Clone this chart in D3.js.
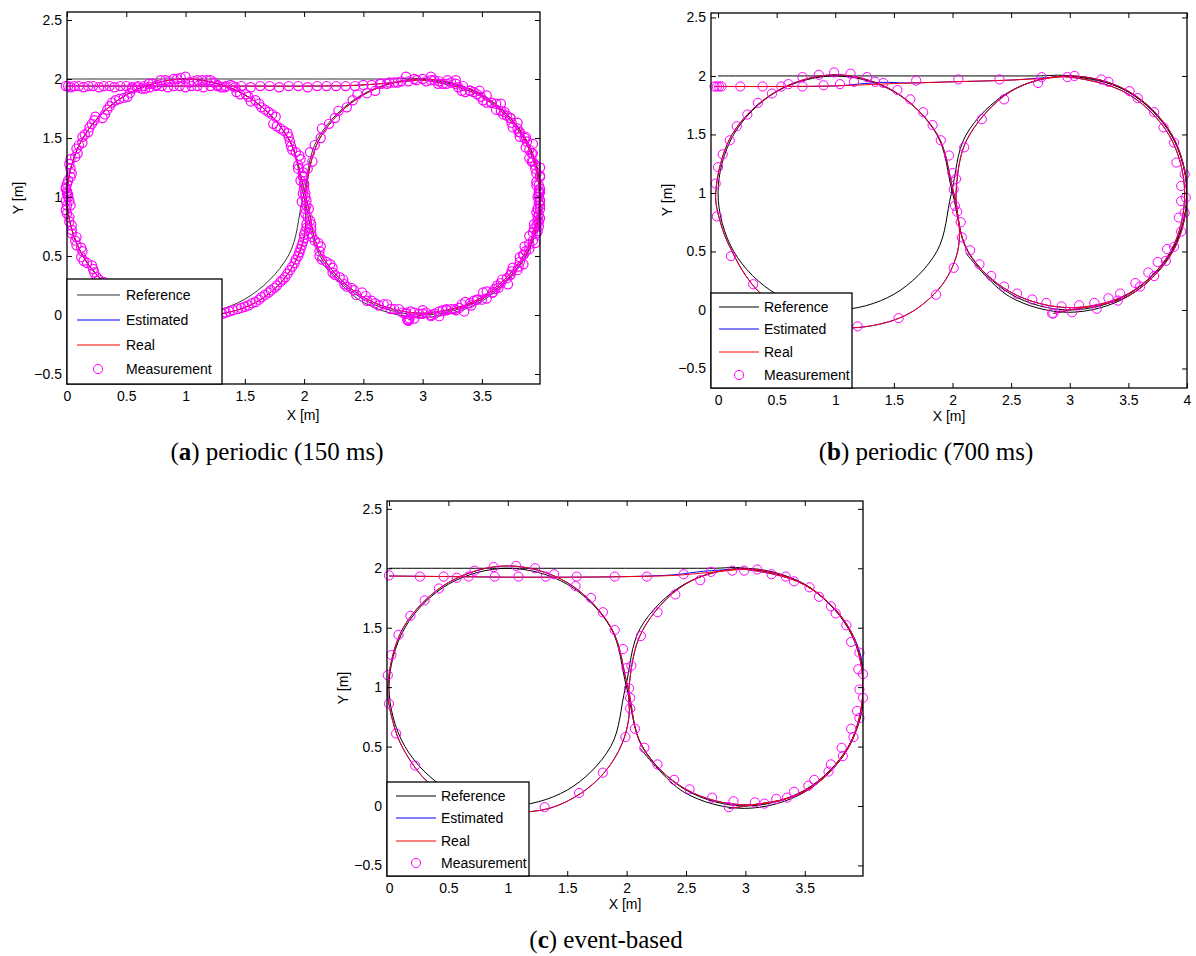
<!DOCTYPE html>
<html>
<head>
<meta charset="utf-8">
<script src="https://cdn.jsdelivr.net/npm/d3@7"></script>
<style>
  body { margin: 0; background: #fff; }
  svg { display: block; }
</style>
</head>
<body>
<div class="graphHold"></div>
<script>
/************/
/*** DATA ***/
/************/
let xTicksShort = [0, 0.5, 1, 1.5, 2, 2.5, 3, 3.5];
let xTicksLong = [0, 0.5, 1, 1.5, 2, 2.5, 3, 3.5, 4];
let yTicks = [-0.5, 0, 0.5, 1, 1.5, 2, 2.5];
let legendNames = ['Reference', 'Estimated', 'Real', 'Measurement'];

/* reference trajectory (same for the three runs) */
let referencePath = [[0,2],[2.7,2],[3,2],[3.5,1.866],[3.866,1.5],[4,1],[3.866,0.5],[3.5,0.134],[3,0],[2.5,0.134],[2.134,0.5],[2,1],
  [1.866,1.5],[1.5,1.866],[1,2],[0.5,1.866],[0.134,1.5],[0,1],[0.134,0.5],[0.5,0.134],[1,0],[1.5,0.134],[1.866,0.5],[1.99,0.995],
  [2.115,1.495],[2.485,1.865],[2.99,2],[3.495,1.865],[3.865,1.495],[4,0.99],[3.865,0.485],[3.495,0.115],[2.99,-0.02],[2.485,0.115],[2.115,0.485]];

/* (a) periodic 150 ms */
let realA = [[0,1.94],[0.5,1.94],[1,1.94],[1.5,1.94],[2,1.94],[2.4,1.945],[2.7,1.965],[2.9,1.985],[3,1.99],[3.49,1.855],[3.855,1.49],[3.985,1],
  [3.855,0.51],[3.49,0.145],[3,0.015],[2.51,0.145],[2.145,0.51],[2.015,1],[1.866,1.5],[1.5,1.866],[1,2],[0.5,1.866],[0.134,1.5],[0,1],
  [0.134,0.5],[0.5,0.134],[1,0],[1.35,0.02],[1.6,0.11],[1.8,0.27],[1.93,0.46],[2,0.66],[2.015,0.85],[2.01,1],[2.134,1.5],[2.5,1.866],
  [3,2],[3.5,1.866],[3.866,1.5],[3.995,1],[3.866,0.5],[3.5,0.134],[3,0],[2.88,-0.04]];
let estimatedA = [[0,1.94],[0.5,1.94],[1,1.94],[1.5,1.94],[2,1.94],[2.4,1.945],[2.7,1.965],[2.9,1.985],[3,1.99],[3.49,1.855],[3.855,1.49],[3.985,1],
  [3.855,0.51],[3.49,0.145],[3,0.015],[2.51,0.145],[2.145,0.51],[2.015,1],[1.866,1.5],[1.5,1.866],[1,2],[0.5,1.866],[0.134,1.5],[0,1],
  [0.134,0.5],[0.5,0.134],[1,0],[1.35,0.02],[1.6,0.11],[1.8,0.27],[1.93,0.46],[2,0.66],[2.015,0.85],[2.01,1],[2.134,1.5],[2.5,1.866],
  [3,2],[3.5,1.866],[3.866,1.5],[3.995,1],[3.866,0.5],[3.5,0.134],[3,0],[2.88,-0.04]];
let measureA = [
  /* straight part */
  [-0.01,1.94],[0.01,1.94],[0.03,1.93],[0.06,1.94],[0.10,1.94],[0.14,1.93],[0.18,1.94],[0.22,1.94],[0.27,1.93],[0.31,1.94],[0.36,1.94],[0.40,1.93],
  [0.45,1.94],[0.50,1.94],[0.55,1.93],[0.60,1.94],[0.65,1.94],[0.70,1.93],[0.75,1.94],[0.80,1.94],[0.85,1.93],[0.90,1.94],[0.95,1.94],[1.00,1.93],
  [1.05,1.94],[1.10,1.94],[1.15,1.93],[1.21,1.94],[1.27,1.94],[1.33,1.93],[1.40,1.94],[1.47,1.94],[1.55,1.93],[1.63,1.94],[1.71,1.94],[1.79,1.93],
  [1.87,1.94],[1.95,1.94],[2.03,1.93],[2.11,1.94],[2.19,1.94],[2.27,1.94],[2.35,1.94],[2.43,1.94],[2.50,1.95],[2.57,1.95],[2.64,1.96],[2.70,1.96],
  [2.76,1.97],[2.82,1.98],[2.88,1.98],[2.95,1.99],
  /* right loop, first pass */
  [3.03,1.98],[3.10,1.99],[3.17,1.96],[3.24,1.97],[3.30,1.93],[3.36,1.89],[3.43,1.89],[3.49,1.85],[3.54,1.80],[3.62,1.79],[3.66,1.73],[3.71,1.69],
  [3.75,1.63],[3.80,1.58],[3.82,1.51],[3.88,1.47],[3.90,1.40],[3.90,1.33],[3.95,1.27],[3.96,1.20],[3.96,1.13],[3.99,1.07],[3.98,1.00],
  [3.99,0.93],[3.96,0.87],[3.98,0.79],[3.94,0.73],[3.90,0.67],[3.90,0.60],[3.87,0.54],[3.82,0.49],[3.81,0.41],[3.75,0.37],[3.71,0.31],[3.66,0.27],
  [3.61,0.22],[3.54,0.20],[3.50,0.13],[3.43,0.12],[3.36,0.11],[3.31,0.06],[3.24,0.05],[3.17,0.04],[3.10,0.01],[3.03,0.02],
  [2.97,0.01],[2.90,0.03],[2.83,0.02],[2.76,0.05],[2.70,0.09],[2.63,0.08],[2.57,0.12],[2.52,0.16],[2.44,0.17],[2.40,0.23],[2.34,0.26],[2.30,0.32],
  [2.24,0.36],[2.22,0.43],[2.15,0.47],[2.13,0.54],[2.12,0.61],[2.07,0.66],[2.06,0.73],[2.05,0.80],[2.01,0.86],[2.02,0.93],[2.01,1.00],
  [3.07,1.99],[3.13,1.96],[3.20,1.96],[3.28,1.96],[3.33,1.90],[3.40,1.90],[3.46,1.87],[3.51,1.82],[3.58,1.80],[3.62,1.74],[3.68,1.70],[3.74,1.67],
  [3.76,1.59],[3.81,1.55],[3.86,1.50],[3.87,1.42],[3.92,1.37],[3.92,1.30],[3.95,1.24],[3.99,1.17],[3.96,1.10],[3.98,1.03],[3.99,0.97],[3.97,0.90],
  [3.97,0.83],[3.94,0.77],[3.93,0.70],[3.93,0.63],[3.86,0.58],[3.85,0.51],[3.82,0.45],[3.76,0.40],[3.74,0.34],[3.67,0.30],[3.63,0.25],[3.59,0.19],
  [3.51,0.19],[3.46,0.13],[3.40,0.10],[3.33,0.09],[3.27,0.05],[3.20,0.05],[3.14,0.03],[3.07,0.00],[3.00,0.04],[2.93,0.02],[2.86,0.02],[2.80,0.05],
  [2.73,0.05],[2.67,0.09],[2.60,0.10],[2.53,0.12],[2.49,0.19],[2.42,0.21],[2.36,0.24],[2.33,0.30],[2.26,0.34],[2.24,0.40],[2.19,0.45],[2.13,0.50],
  [2.14,0.58],[2.09,0.63],[2.06,0.69],[2.06,0.77],[2.03,0.83],[2.04,0.90],[2.02,0.97],
  /* left loop */
  [2.00,1.07],[1.97,1.14],[1.99,1.21],[1.95,1.27],[1.96,1.35],[1.90,1.40],[1.88,1.47],[1.86,1.54],[1.80,1.58],[1.74,1.62],[1.73,1.70],[1.67,1.74],
  [1.62,1.79],[1.55,1.81],[1.51,1.87],[1.43,1.89],[1.38,1.95],[1.30,1.93],[1.24,1.97],[1.18,1.99],[1.10,1.99],[1.03,1.97],[0.96,2.01],[0.90,2.00],
  [0.83,1.99],[0.76,1.95],[0.69,1.96],[0.63,1.92],[0.55,1.92],[0.51,1.85],[0.44,1.83],[0.38,1.80],[0.34,1.74],[0.30,1.67],[0.23,1.65],[0.19,1.59],
  [0.15,1.53],[0.13,1.46],[0.08,1.41],[0.07,1.34],[0.02,1.28],[0.04,1.20],[0.01,1.14],[-0.01,1.07],[0.01,1.00],[0.03,0.93],[0.00,0.86],[0.02,0.79],
  [0.04,0.72],[0.08,0.66],[0.08,0.59],[0.13,0.54],[0.14,0.46],[0.21,0.42],[0.23,0.36],[0.27,0.30],[0.34,0.26],[0.40,0.24],[0.44,0.16],[0.50,0.13],
  [0.56,0.10],[0.63,0.09],[0.69,0.04],[0.76,0.04],[0.82,0.00],[0.90,0.03],[0.97,0.00],[1.04,-0.01],[1.10,0.02],[1.17,0.00],[1.24,0.00],[1.31,0.01],
  [1.37,0.03],[1.44,0.05],[1.50,0.07],[1.56,0.10],[1.62,0.13],[1.67,0.17],[1.72,0.21],[1.77,0.25],[1.82,0.30],[1.86,0.35],[1.90,0.41],[1.93,0.47],
  [1.96,0.53],[1.98,0.59],[2.00,0.65],[2.01,0.71],[2.02,0.77],
  [1.99,1.03],[2.00,1.11],[1.99,1.17],[1.95,1.24],[1.97,1.32],[1.93,1.38],[1.89,1.43],[1.87,1.51],[1.83,1.56],[1.77,1.60],[1.76,1.68],[1.70,1.72],
  [1.64,1.76],[1.59,1.82],[1.53,1.85],[1.46,1.87],[1.42,1.93],[1.34,1.94],[1.27,1.95],[1.21,1.99],[1.14,1.99],[1.07,1.98],[1.00,2.02],[0.93,2.00],
  [0.86,1.98],[0.79,1.99],[0.72,1.96],[0.66,1.92],[0.59,1.93],[0.53,1.88],[0.48,1.84],[0.41,1.82],[0.36,1.77],[0.32,1.70],[0.24,1.68],[0.21,1.62],
  [0.18,1.55],[0.13,1.51],[0.10,1.44],[0.09,1.37],[0.03,1.32],[0.03,1.24],[0.03,1.17],[0.00,1.11],[0.00,1.03],[0.02,0.97],[-0.01,0.89],[0.02,0.83],
  [0.04,0.76],[0.04,0.69],[0.07,0.63],[0.12,0.57],[0.12,0.49],[0.17,0.44],[0.22,0.39],[0.25,0.32],[0.31,0.28],[0.37,0.25],[0.40,0.17],[0.47,0.15],
  [0.54,0.13],[0.59,0.08],[0.66,0.06],[0.73,0.06],[0.79,0.00],[0.86,0.01],[0.93,0.01],[1.00,-0.01],[1.07,0.00],[1.14,0.02],[1.20,0.00],[1.27,0.00],
  [1.34,0.02],[1.40,0.04],[1.47,0.06],[1.53,0.08],[1.59,0.11],[1.64,0.15],[1.70,0.19],[1.75,0.23],[1.80,0.28],[1.84,0.32],[1.88,0.38],[1.92,0.44],
  [1.95,0.50],[1.97,0.56],[1.99,0.62],[2.00,0.68],[2.02,0.74],
  /* right loop, second pass */
  [2.01,0.90],[1.98,0.96],[2.01,1.03],[2.00,1.11],[1.99,1.18],[2.03,1.24],[2.07,1.30],[2.05,1.38],[2.09,1.44],[2.14,1.50],[2.15,1.58],[2.21,1.62],
  [2.26,1.67],[2.29,1.73],[2.36,1.76],[2.41,1.82],[2.45,1.87],[2.53,1.88],[2.60,1.90],[2.65,1.96],[2.72,1.97],[2.79,1.97],[2.86,2.02],[2.93,2.00],
  [3.00,2.00],[3.07,2.02],[3.14,1.98],[3.21,1.99],[3.28,1.99],[3.34,1.94],[3.40,1.90],[3.48,1.90],[3.54,1.86],[3.58,1.80],[3.66,1.79],[3.69,1.72],
  [3.74,1.67],[3.80,1.63],[3.82,1.55],[3.87,1.51],[3.93,1.45],[3.93,1.37],[3.93,1.30],[3.99,1.25],[3.99,1.18],[3.98,1.10],[3.99,1.04],[3.99,0.97],
  [3.99,0.90],[3.99,0.82],[3.96,0.76],[3.96,0.69],[3.95,0.61],[3.90,0.56],[3.85,0.51],[3.85,0.43],[3.80,0.38],[3.74,0.34],[3.72,0.26],[3.64,0.23],
  [3.59,0.19],[3.54,0.14],[3.46,0.13],[3.41,0.08],[3.35,0.03],[3.28,0.04],[3.20,0.04],[3.14,-0.01],[3.07,-0.01],[3.00,0.01],[2.93,-0.03],[2.86,0.01],
  [2.88,-0.04],[2.88,-0.05],[2.87,-0.04],[2.89,-0.03],
  /* slow spots */
  [3.98,1.05],[3.97,1.00],[3.98,0.95],[3.97,0.90],[3.98,0.85],[3.97,0.80],[3.98,0.75],[3.97,0.71],
  [-0.01,1.08],[0.00,1.05],[0.01,1.02],[-0.01,0.97],[0.00,0.93]];

/* (b) periodic 700 ms */
let realB = [[-0.03,1.91],[0.5,1.91],[1,1.915],[1.5,1.935],[2,1.95],[2.5,1.965],[2.8,1.98],[3,1.99],[3.49,1.85],[3.85,1.49],[3.98,1],
  [3.86,0.5],[3.5,0.14],[3,0.02],[2.5,0.15],[2.13,0.5],[2.01,1],[1.87,1.5],[1.5,1.87],[1,2.01],[0.5,1.87],[0.12,1.5],[-0.02,1],
  [0.02,0.75],[0.1,0.54],[0.29,0.22],[0.57,-0.02],[0.92,-0.14],[1.28,-0.14],[1.63,-0.03],[1.9,0.2],[2.03,0.45],[2.06,0.65],[2.04,0.85],
  [2.03,1],[2.12,1.45],[2.5,1.87],[3,2],[3.5,1.87],[3.87,1.5],[4,1],[3.88,0.5],[3.5,0.12],[3,0],[2.86,-0.03]];
let estimatedB = [[-0.03,1.91],[0.5,1.91],[1,1.915],[1.4,1.945],[1.6,1.94],[2,1.95],[2.5,1.965],[2.8,1.985],[3,1.99],[3.49,1.85],[3.85,1.49],[3.98,1],
  [3.86,0.5],[3.5,0.14],[3,0.02],[2.5,0.15],[2.13,0.5],[2.01,1],[1.87,1.5],[1.5,1.87],[1,2.01],[0.5,1.87],[0.12,1.5],[-0.02,1],
  [0.02,0.75],[0.1,0.54],[0.29,0.22],[0.57,-0.02],[0.92,-0.14],[1.28,-0.14],[1.63,-0.03],[1.9,0.2],[2.03,0.45],[2.06,0.65],[2.04,0.85],
  [2.03,1],[2.12,1.45],[2.5,1.87],[3,2],[3.5,1.87],[3.87,1.5],[4,1],[3.88,0.5],[3.5,0.12],[3,0],[2.86,-0.03]];
let measureB = [
  [-0.03,1.91],[-0.01,1.91],[0.01,1.91],[0.03,1.91],[0.19,1.91],[0.38,1.91],[0.54,1.91],[0.60,1.93],[0.72,1.91],[0.90,1.92],[1.04,1.93],[1.16,1.95],
  [1.34,1.95],[1.41,1.94],[1.69,1.96],[2.05,1.97],[2.40,1.97],[2.73,1.94],[2.76,1.99],[2.98,1.99],[3.04,2.00],[3.27,1.97],[3.33,1.95],[3.51,1.87],
  [3.58,1.81],[3.72,1.69],[3.80,1.56],[3.89,1.43],[3.91,1.26],[3.98,1.16],[3.95,1.06],[3.99,0.96],[3.95,0.93],[3.98,0.83],[3.93,0.79],[3.95,0.67],
  [3.89,0.54],[3.83,0.52],[3.82,0.42],[3.75,0.41],[3.72,0.29],[3.67,0.32],[3.60,0.20],[3.56,0.23],[3.43,0.14],[3.41,0.08],[3.33,0.10],[3.23,0.01],
  [3.21,0.06],[3.08,0.04],[3.02,-0.02],[2.93,0.03],[2.86,-0.03],[2.85,-0.03],[2.80,0.06],[2.68,0.09],[2.55,0.14],[2.44,0.20],[2.33,0.29],[2.23,0.39],
  [2.15,0.51],[2.08,0.62],[2.07,0.75],[2.04,0.84],[2.02,0.89],[2.01,1.03],[2.03,1.12],[2.00,1.17],[1.97,1.32],[1.90,1.45],[1.83,1.58],[1.75,1.69],
  [1.64,1.80],[1.53,1.88],[1.27,1.99],[1.13,2.02],[0.99,2.03],[0.86,2.01],[0.72,1.99],[0.46,1.85],[0.34,1.77],[0.25,1.67],[0.16,1.57],[0.10,1.45],
  [0.04,1.33],[0.00,1.22],[-0.02,1.08],[-0.01,0.80],[0.11,0.46],[0.30,0.22],[1.19,-0.14],[1.54,-0.07],[1.86,0.13],[2.01,0.36],[2.10,1.39],
  [2.25,1.63],[2.44,1.80]];

/* (c) event-based */
let realC = [[0,1.935],[0.5,1.93],[1,1.925],[1.5,1.925],[2,1.93],[2.4,1.94],[2.7,1.965],[2.9,1.985],[3,1.99],[3.5,1.86],[3.87,1.5],[3.99,1],
  [3.87,0.5],[3.5,0.13],[3,0.01],[2.5,0.14],[2.13,0.5],[2.01,1],[1.87,1.5],[1.5,1.88],[1,2.02],[0.5,1.88],[0.12,1.5],[-0.01,1],
  [0.03,0.72],[0.12,0.48],[0.35,0.18],[0.7,0],[1.05,-0.05],[1.35,-0.02],[1.62,0.11],[1.82,0.29],[1.96,0.52],[2.02,0.75],
  [2.02,1],[2.13,1.47],[2.5,1.87],[3,1.995],[3.5,1.86],[3.87,1.5],[3.99,1],[3.87,0.5],[3.5,0.12],[3,0],[2.86,-0.02]];
let estimatedC = [[0,1.935],[0.5,1.93],[1,1.925],[1.5,1.925],[2,1.93],[2.4,1.945],[2.65,1.975],[2.9,1.99],[3,1.99],[3.5,1.86],[3.87,1.5],[3.995,1.1],
  [3.87,0.5],[3.5,0.13],[3,0.01],[2.5,0.14],[2.13,0.5],[2.01,1],[1.87,1.5],[1.5,1.88],[1,2.02],[0.5,1.88],[0.12,1.5],[-0.01,1],
  [0.03,0.72],[0.12,0.48],[0.35,0.18],[0.7,0],[1.05,-0.05],[1.35,-0.02],[1.62,0.11],[1.82,0.29],[1.96,0.52],[2.02,0.75],
  [2.02,1],[2.13,1.47],[2.5,1.87],[3,1.995],[3.5,1.86],[3.87,1.5],[3.99,1],[3.87,0.5],[3.5,0.12],[3,0],[2.86,-0.02]];
let measureC = [
  [0.00,1.94],[0.26,1.93],[0.46,1.93],[0.57,1.92],[0.67,1.93],[0.89,1.93],[1.09,1.93],[1.32,1.93],[1.58,1.93],[1.90,1.93],[2.17,1.93],[2.48,1.95],
  [2.71,1.97],[2.89,1.98],[2.99,1.98],[3.10,1.99],[3.22,1.95],[3.34,1.93],[3.41,1.89],[3.54,1.84],[3.62,1.76],[3.72,1.68],[3.76,1.62],[3.85,1.52],
  [3.89,1.38],[3.96,1.29],[3.95,1.15],[3.99,1.11],[3.96,0.98],[3.99,0.91],[3.94,0.80],[3.96,0.74],[3.89,0.65],[3.91,0.58],[3.81,0.49],[3.82,0.42],
  [3.72,0.35],[3.70,0.29],[3.58,0.22],[3.53,0.17],[3.41,0.12],[3.35,0.07],[3.26,0.06],[3.16,0.02],[3.08,0.03],[2.90,0.04],[2.86,-0.01],[2.72,0.07],
  [2.53,0.14],[2.40,0.22],[2.26,0.35],[2.15,0.49],[2.07,0.65],[2.03,0.82],[2.03,0.91],[2.02,0.99],[2.04,1.18],[2.00,1.16],[1.97,1.32],[1.90,1.48],
  [1.80,1.63],[1.70,1.75],[1.57,1.85],[1.39,1.95],[1.23,2.00],[1.07,2.02],[0.88,2.01],[0.72,1.98],[0.42,1.83],[0.30,1.73],[0.18,1.60],[0.08,1.44],
  [0.02,1.27],[-0.01,1.10],[0.00,0.86],[0.06,0.61],[0.22,0.34],[1.31,-0.01],[1.60,0.11],[1.80,0.28],[1.99,0.58],[2.12,1.43],[2.26,1.63],[2.41,1.78],
  [2.62,1.90]];

/**************/
/*** LAYOUT ***/
/**************/
let panels = [
  {id: 'a', left: 67, top: 12, right: 540, bottom: 384, xMin: 0, xMax: 3.99, yMin: -0.585, yMax: 2.568, xTicks: xTicksShort,
   real: realA, estimated: estimatedA, measure: measureA, refColor: '#333', markR: 4.6, markW: 1.2,
   legend: {x: 67, y: 279, w: 155, h: 105, rows: [295, 320, 345, 369], l1: 77, l2: 120, tx: 126, mx: 98},
   yLabel: [18, 198], xLabel: [303, 420], caption: [277, 460], letter: 'a', text: ') periodic (150 ms)'},
  {id: 'b', left: 711, top: 13, right: 1187, bottom: 388, xMin: -0.06, xMax: 4, yMin: -0.667, yMax: 2.538, xTicks: xTicksLong,
   real: realB, estimated: estimatedB, measure: measureB, refColor: '#000', markR: 4.6, markW: 1,
   legend: {x: 711, y: 293, w: 141, h: 95, rows: [307, 329, 352, 375], l1: 719, l2: 759, tx: 764, mx: 739},
   yLabel: [667, 200], xLabel: [949, 421], caption: [926, 460], letter: 'b', text: ') periodic (700 ms)'},
  {id: 'c', left: 387, top: 501, right: 863, bottom: 876, xMin: -0.017, xMax: 3.99, yMin: -0.589, yMax: 2.566, xTicks: xTicksShort,
   real: realC, estimated: estimatedC, measure: measureC, refColor: '#000', markR: 4.6, markW: 1,
   legend: {x: 387, y: 782, w: 142, h: 94, rows: [796, 818, 841, 863], l1: 396, l2: 436, tx: 441, mx: 416},
   yLabel: [343, 688], xLabel: [625, 909], caption: [606, 948], letter: 'c', text: ') event-based'}
];

let sansFont = '"Liberation Sans", Arial, Helvetica, sans-serif';
let serifFont = '"Liberation Serif", "Times New Roman", serif';

let svg = d3.select('.graphHold').
  append('svg').
  attr('width', 1196).
  attr('height', 956);

panels.forEach(p => drawPanel(p));

/*************/
/*** PANEL ***/
/*************/
function drawPanel(p) {
  let xScale = d3.scaleLinear().domain([p.xMin, p.xMax]).range([p.left, p.right]);
  let yScale = d3.scaleLinear().domain([p.yMin, p.yMax]).range([p.bottom, p.top]);
  let g = svg.append('g');

  g.append('clipPath').
    attr('id', 'clip-' + p.id).
    append('rect').
    attr('x', p.left).
    attr('y', p.top).
    attr('width', p.right - p.left).
    attr('height', p.bottom - p.top);

  let line = d3.line().
    x(d => xScale(d[0])).
    y(d => yScale(d[1])).
    curve(d3.curveCatmullRom.alpha(0.5));

  /* trajectories */
  let plot = g.append('g').attr('clip-path', 'url(#clip-' + p.id + ')');
  let series = [
    {data: referencePath, color: p.refColor},
    {data: p.estimated, color: '#0000ff'},
    {data: p.real, color: '#ff0000'}
  ];
  series.forEach(s => {
    plot.append('path').
      datum(s.data).
      attr('d', line).
      attr('fill', 'none').
      attr('stroke', s.color).
      attr('stroke-width', 1);
  });

  /* measurements */
  g.append('g').selectAll('circle').
    data(p.measure).
    enter().
    append('circle').
    attr('cx', d => xScale(d[0])).
    attr('cy', d => yScale(d[1])).
    attr('r', p.markR).
    attr('fill', 'none').
    attr('stroke', '#ff00ff').
    attr('stroke-width', p.markW);

  /* axes, ticks pointing inwards on the four sides */
  let fmt = d3.format('~g');
  let axes = [
    {axis: d3.axisBottom(xScale).tickValues(p.xTicks).tickFormat(fmt).tickPadding(7), tr: [0, p.bottom]},
    {axis: d3.axisTop(xScale).tickValues(p.xTicks).tickFormat(''), tr: [0, p.top]},
    {axis: d3.axisLeft(yScale).tickValues(yTicks).tickFormat(fmt).tickPadding(5), tr: [p.left, 0]},
    {axis: d3.axisRight(yScale).tickValues(yTicks).tickFormat(''), tr: [p.right, 0]}
  ];
  axes.forEach(a => {
    let ax = g.append('g').
      attr('transform', 'translate(' + a.tr[0] + ',' + a.tr[1] + ')').
      call(a.axis.tickSizeInner(-5).tickSizeOuter(0));
    ax.select('.domain').remove();
    ax.selectAll('line').attr('stroke', '#000');
    ax.selectAll('text').
      attr('font-family', sansFont).
      attr('font-size', 14).
      attr('fill', '#000');
  });

  g.append('rect').
    attr('x', p.left).
    attr('y', p.top).
    attr('width', p.right - p.left).
    attr('height', p.bottom - p.top).
    attr('fill', 'none').
    attr('stroke', '#000').
    attr('stroke-width', 1.3);

  /* legend */
  let L = p.legend;
  let lg = g.append('g');
  lg.append('rect').
    attr('x', L.x).
    attr('y', L.y).
    attr('width', L.w).
    attr('height', L.h).
    attr('fill', '#fff').
    attr('stroke', '#000').
    attr('stroke-width', 1.3);
  let legendColors = [p.refColor, '#0000ff', '#ff0000'];
  legendNames.forEach((name, i) => {
    let yy = L.rows[i];
    if (i < 3) {
      lg.append('line').
        attr('x1', L.l1).
        attr('x2', L.l2).
        attr('y1', yy).
        attr('y2', yy).
        attr('stroke', legendColors[i]).
        attr('stroke-width', 1);
    } else {
      lg.append('circle').
        attr('cx', L.mx).
        attr('cy', yy).
        attr('r', p.markR).
        attr('fill', 'none').
        attr('stroke', '#ff00ff');
    }
    lg.append('text').
      attr('x', L.tx).
      attr('y', yy + 5).
      attr('font-family', sansFont).
      attr('font-size', 14).
      text(name);
  });

  /* axis titles */
  g.append('text').
    attr('transform', 'translate(' + p.yLabel[0] + ',' + p.yLabel[1] + ') rotate(-90)').
    attr('text-anchor', 'middle').
    attr('dy', '0.35em').
    attr('font-family', sansFont).
    attr('font-size', 14).
    text('Y [m]');
  g.append('text').
    attr('x', p.xLabel[0]).
    attr('y', p.xLabel[1]).
    attr('text-anchor', 'middle').
    attr('font-family', sansFont).
    attr('font-size', 14).
    text('X [m]');

  /* caption under the sub figure */
  let cap = g.append('text').
    attr('x', p.caption[0]).
    attr('y', p.caption[1]).
    attr('text-anchor', 'middle').
    attr('font-family', serifFont).
    attr('font-size', 25);
  cap.append('tspan').text('(');
  cap.append('tspan').attr('font-weight', 'bold').text(p.letter);
  cap.append('tspan').text(p.text);
}
</script>
</body>
</html>
